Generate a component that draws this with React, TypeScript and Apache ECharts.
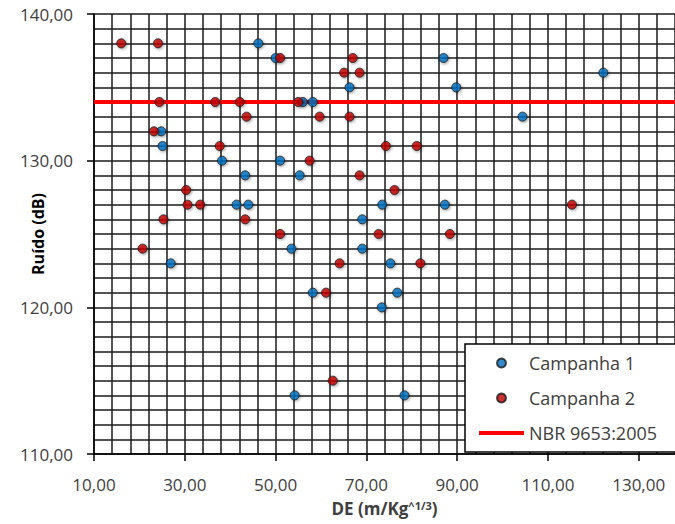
import React, { useEffect, useRef } from "react";
import * as echarts from "echarts";

// Campanha 1 (blue) points: [DE, Ruído]
const campanha1X = [46.2, 50, 56, 58.2, 24.8, 25.1, 38.2, 51, 43.3, 55.3, 41.4, 44, 53.5, 26.9, 58.2, 54.2, 66.3, 87, 89.8, 122.2, 104.4, 73.5, 87.3, 69.1, 69.1, 75.3, 76.8, 73.4, 78.4];
const campanha1Y = [138, 137, 134, 134, 132, 131, 130, 130, 129, 129, 127, 127, 124, 123, 121, 114, 135, 137, 135, 136, 133, 127, 127, 126, 124, 123, 121, 120, 114];

// Campanha 2 (red) points
const campanha2X = [16, 24.1, 51, 24.4, 36.7, 42.1, 55, 43.6, 59.7, 23.2, 37.7, 57.5, 30.3, 30.6, 33.4, 25.3, 43.3, 51, 20.7, 64.1, 61.1, 62.6, 67, 65.1, 68.5, 66.3, 74.3, 81.1, 68.5, 76.2, 115.3, 72.7, 88.4, 81.9];
const campanha2Y = [138, 138, 137, 134, 134, 134, 134, 133, 133, 132, 131, 130, 128, 127, 127, 126, 126, 125, 124, 123, 121, 115, 137, 136, 136, 133, 131, 131, 129, 128, 127, 125, 125, 123];

// NBR 9653:2005 limit
const nbrLimit = 134;

const xMin = 10;
const xMax = 138;
const yMin = 110;
const yMax = 140;
const xGridStep = 4;
const yGridStep = 1;
const xTickLabels = [10, 30, 50, 70, 90, 110, 130];
const yTickLabels = [110, 120, 130, 140];

const seriesNames = ["Campanha 1", "Campanha 2", "NBR 9653:2005"];

const FONT = "'Open Sans', sans-serif";

export default function App() {
  const ref = useRef<HTMLDivElement>(null);

  useEffect(() => {
    if (!ref.current) return;
    const chart = echarts.init(ref.current, undefined, { renderer: "svg" });

    const fmt = (v: number) => v.toFixed(2).replace(".", ",");
    const pts = (xs: number[], ys: number[]) => xs.map((x, i) => [x, ys[i]]);

    const markerStyle = (color: string) => ({
      color,
      borderColor: "#1a1a1a",
      borderWidth: 1,
      shadowBlur: 3,
      shadowColor: "rgba(0,0,0,0.45)",
      shadowOffsetX: 1,
      shadowOffsetY: 1,
    });

    const gridLine = { show: true, lineStyle: { color: "#1a1a1a", width: 1.5 } };
    const tickStyle = { color: "#000", width: 1.5 };

    chart.setOption({
      animation: false,
      backgroundColor: "#ffffff",
      textStyle: { fontFamily: FONT },
      grid: { left: 94, top: 14, right: 0, bottom: 70 },
      legend: {
        data: [
          { name: seriesNames[0] },
          { name: seriesNames[1] },
          { name: seriesNames[2], icon: "path://M0,0L45,0L45,4L0,4Z" },
        ],
        orient: "vertical",
        left: 465,
        top: 344,
        padding: [10, 40, 10, 14],
        itemWidth: 45,
        itemHeight: 9,
        itemGap: 17,
        backgroundColor: "#ffffff",
        borderColor: "#000000",
        borderWidth: 1.5,
        borderRadius: 0,
        textStyle: { fontFamily: FONT, fontSize: 18, color: "#404040", lineHeight: 18 },
        selectedMode: false,
        z: 10,
      },
      xAxis: [
        {
          type: "value",
          position: "bottom",
          min: xMin,
          max: xMax,
          interval: xGridStep,
          axisLine: { show: true, lineStyle: tickStyle },
          axisTick: { show: false },
          axisLabel: { show: false },
          splitLine: gridLine,
        },
        {
          type: "value",
          position: "bottom",
          min: xMin,
          max: xMax,
          name: "{a|DE (m/Kg}{s|^1/3}{a|)}",
          nameLocation: "middle",
          nameGap: 46,
          nameMoveOverlap: false,
          nameTextStyle: {
            rich: {
              a: { fontFamily: FONT, fontSize: 17, fontWeight: "bold", color: "#404040" },
              s: { fontFamily: FONT, fontSize: 11, fontWeight: "bold", color: "#404040", verticalAlign: "top" },
            },
          },
          axisLine: { show: false },
          axisTick: { show: true, length: 7, customValues: xTickLabels, lineStyle: tickStyle },
          axisLabel: {
            customValues: xTickLabels,
            formatter: fmt,
            margin: 22,
            fontFamily: FONT,
            fontSize: 17,
            color: "#404040",
          },
          splitLine: { show: false },
        },
      ],
      yAxis: [
        {
          type: "value",
          position: "left",
          min: yMin,
          max: yMax,
          interval: yGridStep,
          axisLine: { show: true, lineStyle: tickStyle },
          axisTick: { show: false },
          axisLabel: { show: false },
          splitLine: gridLine,
        },
        {
          type: "value",
          position: "left",
          min: yMin,
          max: yMax,
          name: "Ruído (dB)",
          nameLocation: "middle",
          nameGap: 48,
          nameRotate: 90,
          nameMoveOverlap: false,
          nameTextStyle: { fontFamily: FONT, fontSize: 16, fontWeight: "bold", color: "#000" },
          axisLine: { show: false },
          axisTick: { show: true, length: 7, customValues: yTickLabels, lineStyle: tickStyle },
          axisLabel: {
            customValues: yTickLabels,
            formatter: fmt,
            margin: 21,
            fontFamily: FONT,
            fontSize: 17,
            color: "#404040",
          },
          splitLine: { show: false },
        },
      ],
      series: [
        {
          name: seriesNames[2],
          type: "line",
          data: [[xMin, nbrLimit], [xMax, nbrLimit]],
          symbol: "none",
          showSymbol: false,
          lineStyle: { color: "#ff0000", width: 4 },
          itemStyle: { color: "#ff0000" },
          silent: true,
          z: 2,
        },
        {
          name: seriesNames[0],
          type: "scatter",
          data: pts(campanha1X, campanha1Y),
          symbol: "circle",
          symbolSize: 9,
          itemStyle: markerStyle("#0070c0"),
          silent: true,
          z: 3,
        },
        {
          name: seriesNames[1],
          type: "scatter",
          data: pts(campanha2X, campanha2Y),
          symbol: "circle",
          symbolSize: 9,
          itemStyle: markerStyle("#c00000"),
          silent: true,
          z: 4,
        },
      ],
    });

    return () => chart.dispose();
  }, []);

  return (
    <div
      ref={ref}
      style={{ position: "absolute", left: 0, top: 0, width: 675, height: 524 }}
    />
  );
}
